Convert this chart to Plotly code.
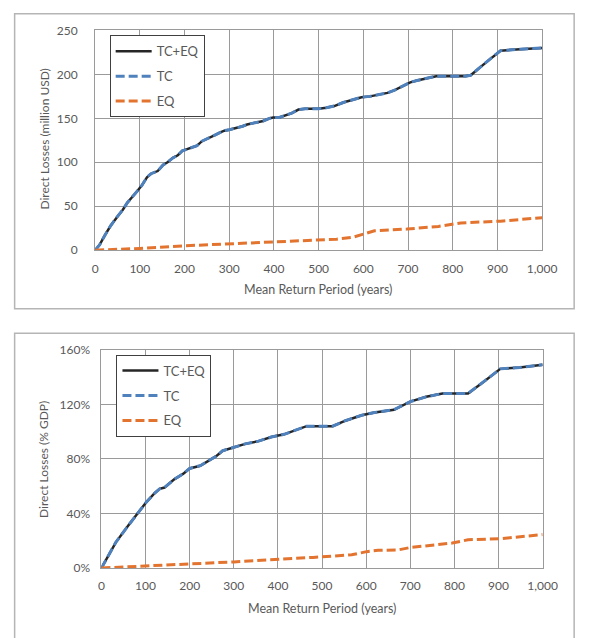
import plotly.graph_objects as go

# ---- data ----
rp_tc_top = [0, 10, 22, 35, 51, 62, 72, 83, 94, 105, 116, 125, 130, 140, 152, 162, 174, 185, 195, 206,
             217, 228, 239, 253, 268, 280, 289, 300, 318, 330, 340, 358, 376, 390, 398, 412, 427, 440,
             455, 470, 484, 500, 517, 535, 555, 575, 596, 615, 635, 654, 670, 690, 705, 720, 740, 763,
             780, 800, 828, 840, 860, 880, 907, 930, 960, 1000]
tc_top = [0, 6, 17, 28, 39, 46, 54, 60, 67, 74, 83, 87, 88, 90, 97, 100, 105, 108, 113, 115,
          117, 119, 124, 127, 131, 134, 136, 137, 139, 141, 143, 145, 147, 150, 151, 151, 154, 156,
          160, 161, 161, 161, 162, 164, 168, 171, 174, 175, 177, 179, 182, 187, 191, 193, 195, 198,
          198, 198, 198, 199, 207, 216, 227, 228, 229, 230]
tceq_top = [0, 6, 17, 28, 39, 46, 54, 60, 67, 74, 83, 87, 88, 90, 97, 100, 105, 108, 113, 115,
            117, 119, 124, 127, 131, 134, 136, 137, 139, 141, 143, 145, 147, 150, 151, 151, 154, 156,
            160, 161, 161, 161, 162, 164, 168, 171, 174, 175, 177, 179, 182, 187, 191, 193, 195, 198,
            198, 198, 198, 199, 207, 216, 227, 228, 229, 230]
rp_eq_top = [0, 100, 200, 300, 400, 488, 540, 575, 596, 625, 697, 768, 818, 907, 1000]
eq_top = [0, 2, 5, 7, 9, 11, 12.5, 14.5, 18, 22, 24, 27, 31, 33, 37]

rp_tc_bot = [0, 33, 63, 80, 101, 121, 132, 143, 165, 185, 200, 224, 246, 260, 275, 300, 326, 356, 385,
             414, 443, 465, 480, 502, 524, 553, 572, 590, 619, 663, 700, 736, 773, 800, 831, 868, 904,
             948, 1000]
tc_bot = [0, 19, 32, 39, 48, 55, 58, 59, 65, 69, 73, 75, 79, 82, 86, 88.5, 91, 93, 96,
          98, 101.5, 104, 104, 104, 104, 108, 110, 112, 114, 116, 122, 125.5, 128, 128, 128, 137, 146,
          147, 149]
tceq_bot = [0, 19, 32, 39, 48, 55, 58, 59, 65, 69, 73, 75, 79, 82, 86, 88.5, 91, 93, 96,
            98, 101.5, 104, 104, 104, 104, 108, 110, 112, 114, 116, 122, 125.5, 128, 128, 128, 137, 146,
            147, 149]
rp_eq_bot = [0, 100, 200, 300, 400, 480, 567, 601, 627, 671, 700, 766, 795, 831, 904, 1000]
eq_bot = [0, 1.3, 3, 4.5, 6.2, 7.8, 9.7, 12, 13, 13.2, 15, 17, 18.3, 20.7, 21.5, 24.5]

x_ticks = [0, 100, 200, 300, 400, 500, 600, 700, 800, 900, 1000]
y_ticks_top = [0, 50, 100, 150, 200, 250]
y_ticks_bot = [0, 40, 80, 120, 160]
y_ticklabels_bot = ["0%", "40%", "80%", "120%", "160%"]

W, H = 594, 638
BLACK = "#262626"
BLUE = "#4F81BD"
ORANGE = "#E3742F"
GRID = "#9a9a9a"
TXT = "#595959"
FONT = "Lato"

fig = go.Figure()

def add_set(xs_all, tceq, tc, xs_eq, eq, xa, ya, leg):
    fig.add_trace(go.Scatter(x=xs_all, y=tceq, mode="lines", name="TC+EQ", xaxis=xa, yaxis=ya,
                             legend=leg, legendgroup=leg + "a",
                             line=dict(color=BLACK, width=2.5)))
    fig.add_trace(go.Scatter(x=xs_all, y=tc, mode="lines", name="TC", xaxis=xa, yaxis=ya,
                             legend=leg, legendgroup=leg + "b",
                             line=dict(color=BLUE, width=3, dash="9px,4px")))
    fig.add_trace(go.Scatter(x=xs_eq, y=eq, mode="lines", name="EQ", xaxis=xa, yaxis=ya,
                             legend=leg, legendgroup=leg + "c",
                             line=dict(color=ORANGE, width=3, dash="9px,4px")))

add_set(rp_tc_top, tceq_top, tc_top, rp_eq_top, eq_top, "x", "y", "legend")
add_set(rp_tc_bot, tceq_bot, tc_bot, rp_eq_bot, eq_bot, "x2", "y2", "legend2")

def px_x(p):
    return p / W

def px_y(p):
    return 1 - p / H

axis_common = dict(showgrid=True, gridcolor=GRID, gridwidth=1, showline=True, linecolor=GRID,
                   linewidth=1, mirror=True, zeroline=False, ticks="",
                   tickfont=dict(family=FONT, size=12, color=TXT))

fig.update_layout(
    width=W, height=H, margin=dict(l=0, r=0, t=0, b=0),
    paper_bgcolor="white", plot_bgcolor="white",
    font=dict(family=FONT, color=TXT),
    xaxis=dict(domain=[px_x(95), px_x(556)], range=[0, 1000], tickvals=x_ticks, tickformat=",d",
               anchor="y", ticklabelstandoff=7, **axis_common),
    yaxis=dict(domain=[px_y(248), px_y(23)], range=[0, 250], tickvals=y_ticks_top,
               anchor="x", ticklabelstandoff=14, **axis_common),
    xaxis2=dict(domain=[px_x(101.5), px_x(556.5)], range=[0, 1000], tickvals=x_ticks, tickformat=",d",
                anchor="y2", ticklabelstandoff=7, **axis_common),
    yaxis2=dict(domain=[px_y(573.5), px_y(350)], range=[0, 160], tickvals=y_ticks_bot,
                ticktext=y_ticklabels_bot, anchor="x2", ticklabelstandoff=8, **axis_common),
    legend=dict(x=px_x(110), y=px_y(28), xanchor="left", yanchor="top",
                bgcolor="white", bordercolor="#404040", borderwidth=1,
                font=dict(family=FONT, size=13, color=TXT), tracegroupgap=5,
                itemwidth=36),
    legend2=dict(x=px_x(117), y=px_y(355), xanchor="left", yanchor="top",
                 bgcolor="white", bordercolor="#404040", borderwidth=1,
                 font=dict(family=FONT, size=13, color=TXT), tracegroupgap=5,
                 itemwidth=36),
    shapes=[
        dict(type="rect", xref="paper", yref="paper", x0=px_x(12), x1=px_x(589),
             y0=px_y(308), y1=px_y(6), line=dict(color="#b5b5b5", width=1.5), layer="below"),
        dict(type="rect", xref="paper", yref="paper", x0=px_x(12), x1=px_x(589),
             y0=px_y(660), y1=px_y(333), line=dict(color="#b5b5b5", width=1.5), layer="below"),
    ],
    annotations=[
        dict(text="Mean Return Period (years)", xref="paper", yref="paper",
             x=px_x(325), y=px_y(288), showarrow=False, xanchor="center", yanchor="middle",
             font=dict(family=FONT, size=12.5, color=TXT)),
        dict(text="Mean Return Period (years)", xref="paper", yref="paper",
             x=px_x(329), y=px_y(615), showarrow=False, xanchor="center", yanchor="middle",
             font=dict(family=FONT, size=12.5, color=TXT)),
        dict(text="Direct Losses (million USD)", xref="paper", yref="paper",
             x=px_x(43), y=px_y(134), showarrow=False, textangle=-90, xanchor="center", yanchor="middle",
             font=dict(family=FONT, size=12, color=TXT)),
        dict(text="Direct Losses (% GDP)", xref="paper", yref="paper",
             x=px_x(41), y=px_y(462), showarrow=False, textangle=-90, xanchor="center", yanchor="middle",
             font=dict(family=FONT, size=12, color=TXT)),
    ],
)

fig.write_html(
    "out.html",
    config={"displayModeBar": False, "responsive": False},
    post_script=("document.documentElement.style.margin='0';"
                 "document.body.style.margin='0';"
                 "document.documentElement.style.overflow='hidden';"
                 "document.body.style.overflow='hidden';"),
)
